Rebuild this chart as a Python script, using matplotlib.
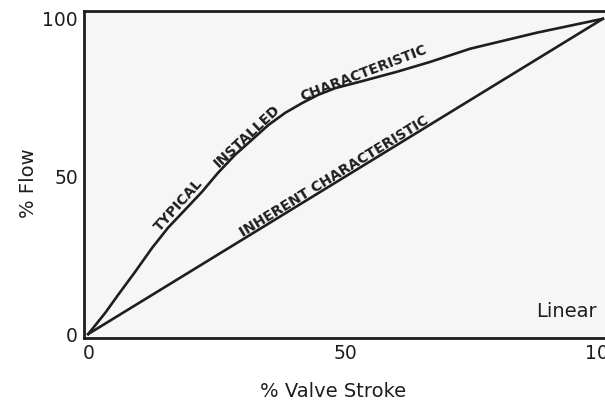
import matplotlib.pyplot as plt

# valve characteristic data
stroke_installed = [0, 3.3, 5.8, 9.1, 12.4, 15.5, 18.8, 22.1, 25.2, 28.5, 31.8,
                    35.0, 38.3, 41.6, 44.7, 48.0, 53.4, 60.0, 66.4, 74.2, 87.2, 100]
flow_installed = [0, 6.7, 12.4, 19.7, 27.3, 33.7, 39.4, 45.1, 51.1, 56.8, 61.6,
                  66.3, 70.2, 73.3, 75.9, 78.0, 80.3, 83.2, 86.3, 90.5, 95.6, 100]
stroke_inherent = [0, 100]
flow_inherent = [0, 100]
ticks = [0, 50, 100]

plt.rcParams['font.family'] = ['DejaVu Sans']
ink = '#1e1e1e'

fig = plt.figure(figsize=(6.05, 4.04), dpi=100)
ax = fig.add_axes([0.139, 0.163, 0.866, 0.81])
ax.set_facecolor('#f6f6f6')

ax.plot(stroke_installed, flow_installed, color=ink, lw=1.9)
ax.plot(stroke_inherent, flow_inherent, color=ink, lw=1.9)

ax.set_xlim(-0.8, 101)
ax.set_ylim(-1.3, 102.5)
ax.set_xticks(ticks)
ax.set_yticks(ticks)
ax.tick_params(length=0, labelsize=13.5, colors=ink, pad=4.5)
for s in ax.spines.values():
    s.set_linewidth(2)
    s.set_color(ink)

ax.set_xlabel('% Valve Stroke', fontsize=14, color=ink)
ax.set_ylabel('% Flow', fontsize=14, color=ink)
ax.xaxis.set_label_coords(0.475, -0.135)
ax.yaxis.set_label_coords(-0.088, 0.474)

# labels along the curves
kw = dict(fontsize=10, fontweight='bold', color=ink,
          ha='center', va='center', rotation_mode='anchor')
ax.text(17.6, 40.8, 'TYPICAL', rotation=48, **kw)
ax.text(30.9, 62.8, 'INSTALLED', rotation=43, **kw)
ax.text(53.4, 82.7, 'CHARACTERISTIC', rotation=21, **kw)
ax.text(47.7, 49.9, 'INHERENT CHARACTERISTIC', rotation=31.5, **kw)

ax.text(98.8, 7, 'Linear', fontsize=14, color=ink, ha='right', va='center')

fig.savefig('out.png', dpi=100)
